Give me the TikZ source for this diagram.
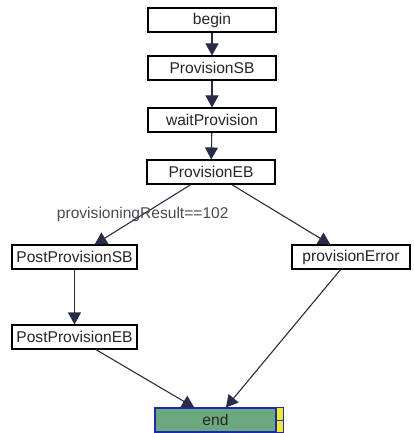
\documentclass[tikz,border=0pt]{standalone}
\usepackage{fontspec}
\setmainfont{Liberation Sans}
\usetikzlibrary{arrows.meta}
\definecolor{edgecol}{RGB}{40,44,72}
\definecolor{endgreen}{RGB}{108,168,126}
\definecolor{endblue}{RGB}{30,40,170}
\definecolor{endyellow}{RGB}{240,235,40}
\tikzset{
    box/.style={draw=black, line width=1.1pt, fill=white, minimum height=24pt, inner sep=0pt,
        font=\fontsize{15.6}{18}\selectfont, text=black!85},
    endbox/.style={box, draw=endblue, fill=endgreen},
    edge/.style={->, draw=edgecol, line width=1.1pt},
}
\begin{document}
\begin{tikzpicture}[>={Triangle[length=12pt,width=13pt]}, x=1pt, y=-1pt]
\useasboundingbox (0,0) rectangle (413,433);

\node[box, minimum width=128pt] (begin) at (212,20) {begin};
\node[box, minimum width=128pt] (provsb) at (212,68) {ProvisionSB};
\node[box, minimum width=128pt] (waitprov) at (212,120) {waitProvision};
\node[box, minimum width=128pt] (proveb) at (211,172) {ProvisionEB};
\node[box, minimum width=125pt] (postsb) at (74.5,257) {PostProvisionSB};
\node[box, minimum width=118pt] (proverr) at (351,257) {provisionError};
\node[box, minimum width=125pt] (posteb) at (74.5,337) {PostProvisionEB};
\node[endbox, minimum width=121pt] (end) at (215.5,420) {end};

\draw[endblue, fill=endyellow, line width=1pt] (end.north east) rectangle ([xshift=7pt]end.south east);
\draw[endblue, line width=1pt] (end.east) -- ([xshift=7pt]end.east);

\draw[edge] (begin) -- (provsb);
\draw[edge] (provsb) -- (waitprov);
\draw[edge] (waitprov) -- (proveb);
\draw[edge] (proveb) -- node[midway, font=\fontsize{15.6}{18}\selectfont, text=black!70]{provisioningResult==102} (postsb);
\draw[edge] (proveb) -- (proverr);
\draw[edge] (postsb) -- (posteb);
\draw[edge] (posteb) -- (end);
\draw[edge] (proverr) -- (end);

\end{tikzpicture}
\end{document}
